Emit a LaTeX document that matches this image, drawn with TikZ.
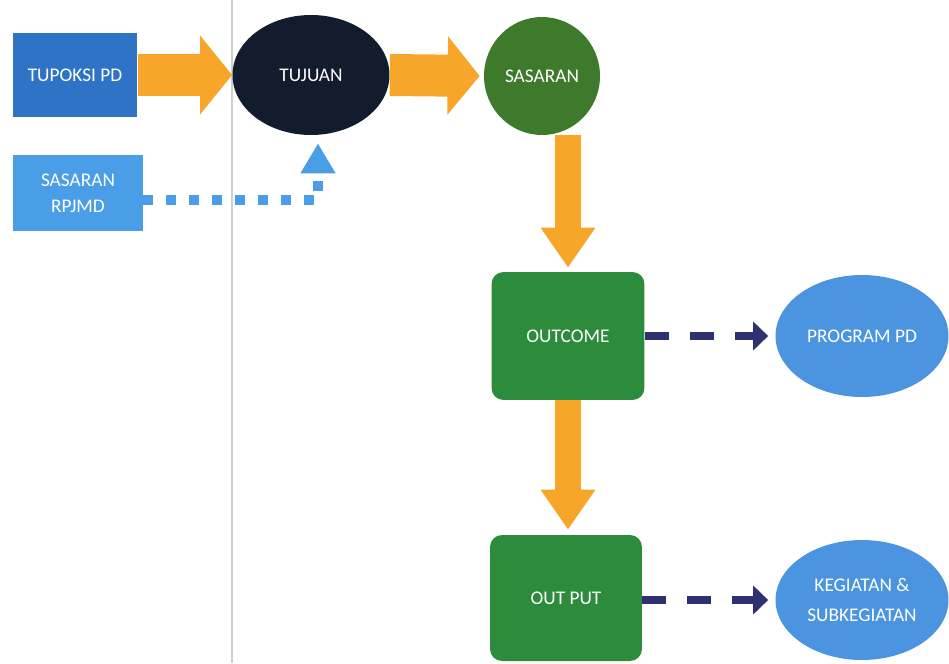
\documentclass[tikz,border=0pt]{standalone}
\usepackage{fontspec}
\setmainfont{Carlito}
\usetikzlibrary{shapes.geometric,arrows.meta,positioning}

\definecolor{dutyblue}{HTML}{2F73C6}
\definecolor{rpjmdblue}{HTML}{4A9EE8}
\definecolor{goalnavy}{HTML}{111C2C}
\definecolor{targetgreen}{HTML}{3D7A2B}
\definecolor{resultgreen}{HTML}{2D8C3C}
\definecolor{planblue}{HTML}{4B94E0}
\definecolor{flowamber}{HTML}{F8A62A}
\definecolor{linknavy}{HTML}{2E3170}
\definecolor{rulegray}{HTML}{D0D0D0}

\tikzset{
  boxtext/.style={text=white, font=\fontsize{11}{15}\selectfont, align=center, inner sep=0pt},
  squarebox/.style={boxtext, rectangle},
  roundbox/.style={boxtext, rectangle, rounded corners=0.24cm, fill=resultgreen, minimum width=3.06cm, minimum height=2.56cm},
  ovalbox/.style={boxtext, ellipse},
  fatright/.style={flowamber, line width=0.84cm, -{Triangle[width=1.54cm, length=0.64cm]}},
  fatdown/.style={flowamber, line width=0.52cm, -{Triangle[width=1.04cm, length=0.8cm]}},
  dotlink/.style={rpjmdblue, line width=0.2cm, dash pattern=on 0.2cm off 0.26cm, -{Triangle[width=0.66cm, length=0.6cm]}},
  dashlink/.style={linknavy, line width=0.16cm, dash pattern=on 0.48cm off 0.42cm, -{Triangle[width=0.56cm, length=0.3cm]}}
}

\begin{document}
\begin{tikzpicture}[x=0.02cm, y=-0.02cm]
  \useasboundingbox (0,0) rectangle (949,663);
  % page rule
  \draw[rulegray, line width=0.03cm] (232,0) -- (232,663);
  % nodes
  \node[squarebox, fill=dutyblue, minimum width=2.5cm, minimum height=1.7cm] (tupoksi) at (75,75) {TUPOKSI PD};
  \node[ovalbox, fill=goalnavy, minimum width=3.14cm, minimum height=2.4cm] (tujuan) at (311,75) {TUJUAN};
  \node[ovalbox, fill=targetgreen, minimum width=2.32cm, minimum height=2.36cm] (sasaran) at (542,76) {SASARAN};
  \node[squarebox, fill=rpjmdblue, minimum width=2.6cm, minimum height=1.52cm] (rpjmd) at (78,193) {SASARAN\\RPJMD};
  \node[roundbox] (outcome) at (568,336) {OUTCOME};
  \node[roundbox, minimum width=3.04cm, minimum height=2.52cm] (output) at (566,598) {OUT PUT};
  \node[ovalbox, fill=planblue, minimum width=3.46cm, minimum height=2.44cm] (program) at (862,336) {PROGRAM PD};
  \node[ovalbox, fill=planblue, minimum width=3.46cm, minimum height=2.4cm] (kegiatan) at (862,600) {KEGIATAN \&\\[2pt]SUBKEGIATAN};
  % main flow
  \draw[fatright] (tupoksi.east) -- (tujuan.west);
  \draw[fatright, shorten >=0.08cm] (tujuan.east) -- (sasaran.west);
  \draw[fatdown, shorten >=0.08cm] (outcome.north |- sasaran.south) -- (outcome.north);
  \draw[fatdown, shorten >=0.1cm] (outcome.south) -- (outcome.south |- output.north);
  % links
  \coordinate (corner) at (318,200);
  \draw[dotlink, shorten >=0.16cm] (rpjmd.east |- corner) -- (corner) -- (corner |- tujuan.south);
  \draw[dashlink, shorten >=0.14cm] (outcome.east) -- (program.west);
  \draw[dashlink, shorten >=0.14cm] (output.east |- kegiatan.west) -- (kegiatan.west);
\end{tikzpicture}
\end{document}
